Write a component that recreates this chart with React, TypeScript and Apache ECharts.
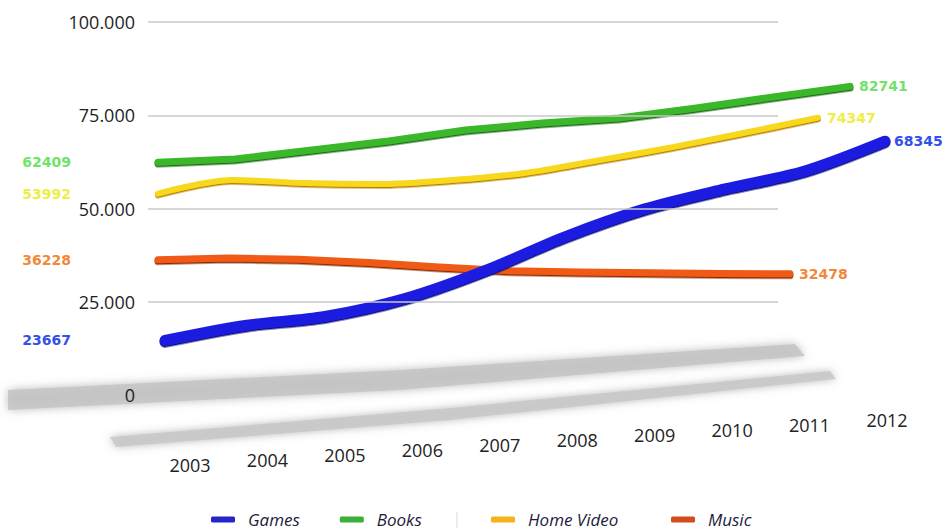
import React, { useEffect, useRef } from "react";
import * as echarts from "echarts";

const years = ["2003", "2004", "2005", "2006", "2007", "2008", "2009", "2010", "2011", "2012"];
const games = [23667, 27030, 29040, 33060, 39320, 46910, 53170, 57640, 61660, 68345];
const books = [62409, 63270, 65685, 68100, 71047, 72923, 74264, 76945, 79894, 82741];
const homeVideo = [53992, 57642, 56837, 56569, 57642, 59518, 62900, 66400, 70300, 74347];
const music = [36228, 36700, 36400, 35500, 34300, 33300, 33000, 32800, 32600, 32478];
const yMin = 0;
const yMax = 100000;
const yStep = 25000;

const LABEL_FONT = "DejaVu Sans";

function withEndLabels(values: number[], color: string, leftDist: number) {
  const last = values.length - 1;
  const base = { show: true, color, fontWeight: "bold", fontSize: 14, fontFamily: LABEL_FONT, formatter: "{c}" };
  return values.map((v, i) => {
    if (i === 0) return { value: v, label: { ...base, position: "left", distance: leftDist } };
    if (i === last) return { value: v, label: { ...base, position: "right", distance: 8 } };
    return v;
  });
}

export default function App() {
  const ref = useRef<HTMLDivElement>(null);
  useEffect(() => {
    if (!ref.current) return;
    const chart = echarts.init(ref.current, undefined, { renderer: "svg" });
    const grids = [
      { left: 148, top: 22, width: 630, height: 373 }, // back wall
      { left: 158, top: 22, width: 692, height: 373 }, // books
      { left: 158, top: 22, width: 660, height: 373 }, // home video
      { left: 158, top: 22, width: 632, height: 373 }, // music
      { left: 165, top: -2, width: 720, height: 448 }, // games (front)
      { left: 190, top: 0, width: 697, height: 403 }, // year labels
    ];
    const hiddenX = (i: number) => ({
      type: "category",
      gridIndex: i,
      data: years,
      boundaryGap: false,
      show: false,
    });
    const hiddenY = (i: number) => ({
      type: "value",
      gridIndex: i,
      min: yMin,
      max: yMax,
      interval: yStep,
      show: false,
    });
    const rich: Record<string, any> = {};
    years.forEach((_, i) => {
      rich["s" + i] = {
        padding: [(years.length - 1 - i) * 5, 0, 0, 0],
        fontSize: 18,
        color: "#222",
        fontFamily: "Open Sans",
      };
    });
    const lineSeries = (
      name: string,
      idx: number,
      values: number[],
      color: string,
      edge: string,
      width: number,
      labelColor: string,
      leftDist: number,
      smooth: number | boolean,
      z: number
    ) => ({
      type: "line",
      name,
      xAxisIndex: idx,
      yAxisIndex: idx,
      data: withEndLabels(values, labelColor, leftDist),
      smooth,
      symbol: "circle",
      symbolSize: 2,
      itemStyle: { color },
      lineStyle: {
        color,
        width,
        cap: "round",
        join: "round",
        shadowColor: edge,
        shadowBlur: 1,
        shadowOffsetY: 1.5,
      },
      z,
    });
    const gridColor = "#c9c9c9";
    const legendBase = {
      top: 506,
      itemWidth: 24,
      itemHeight: 6,
      itemGap: 40,
      icon: "roundRect",
      textStyle: {
        fontStyle: "italic",
        fontSize: 17,
        color: "#1c1c3a",
        fontFamily: "Open Sans",
        padding: [0, 0, 0, 8],
      },
    };
    chart.setOption({
      animation: false,
      backgroundColor: "#ffffff",
      grid: grids,
      xAxis: [
        hiddenX(0),
        hiddenX(1),
        hiddenX(2),
        hiddenX(3),
        hiddenX(4),
        {
          type: "category",
          gridIndex: 5,
          data: years,
          boundaryGap: false,
          axisLine: { show: false },
          axisTick: { show: false },
          axisLabel: {
            margin: 8,
            formatter: (v: string, i: number) => `{s${i}|${v}}`,
            rich,
          },
        },
      ],
      yAxis: [
        {
          type: "value",
          gridIndex: 0,
          min: yMin,
          max: yMax,
          interval: yStep,
          z: 6,
          axisLine: { show: false },
          axisTick: { show: false },
          axisLabel: {
            margin: 13,
            fontSize: 18,
            color: "#1e1e1e",
            fontFamily: "Open Sans",
            formatter: (v: number) => (v === 0 ? "0" : `${Math.round(v / 1000)}.000`),
          },
          splitLine: {
            lineStyle: { color: ["rgba(0,0,0,0)", gridColor, gridColor, gridColor, gridColor], width: 1.5 },
          },
        },
        hiddenY(1),
        hiddenY(2),
        hiddenY(3),
        hiddenY(4),
        hiddenY(5),
      ],
      legend: [
        {
          ...legendBase,
          left: 206,
          data: [
            { name: "Games", itemStyle: { color: "#2626c8" } },
            { name: "Books", itemStyle: { color: "#3aaf3a" } },
          ],
        },
        {
          ...legendBase,
          left: 486,
          data: [{ name: "Home Video", itemStyle: { color: "#f2b418" } }],
        },
        {
          ...legendBase,
          left: 666,
          data: [{ name: "Music", itemStyle: { color: "#d24c1c" } }],
        },
      ],
      graphic: [
        {
          type: "polygon",
          z: 1,
          shape: { points: [[8, 390], [400, 370], [795, 344], [805, 356], [400, 390], [8, 410]] },
          style: { fill: "#c4c4c4", shadowBlur: 10, shadowColor: "rgba(120,120,120,0.6)", opacity: 0.85 },
        },
        {
          type: "polygon",
          z: 1,
          shape: { points: [[110, 437], [450, 408], [830, 371], [836, 379], [450, 420], [116, 447]] },
          style: { fill: "#c8c8c8", shadowBlur: 8, shadowColor: "rgba(120,120,120,0.6)", opacity: 0.85 },
        },
        {
          type: "line",
          shape: { x1: 457, y1: 512, x2: 457, y2: 528 },
          style: { stroke: "#d8d8d8", lineWidth: 1 },
        },
      ],
      series: [
        lineSeries("Books", 1, books, "#3ab82a", "#1d6b14", 7, "#6fe36a", 86, false, 3),
        lineSeries("Home Video", 2, homeVideo, "#f8d81a", "#b88000", 6, "#eeee44", 86, 0.3, 3),
        lineSeries("Music", 3, music, "#f05a12", "#8a2a00", 7, "#f3873a", 86, false, 4),
        lineSeries("Games", 4, games, "#1f1fe0", "#0a0a80", 11, "#3350e8", 93, 0.3, 5),
      ],
    });
    return () => chart.dispose();
  }, []);
  return (
    <div
      ref={ref}
      style={{ position: "fixed", left: 0, top: 0, width: 944, height: 532 }}
    />
  );
}
